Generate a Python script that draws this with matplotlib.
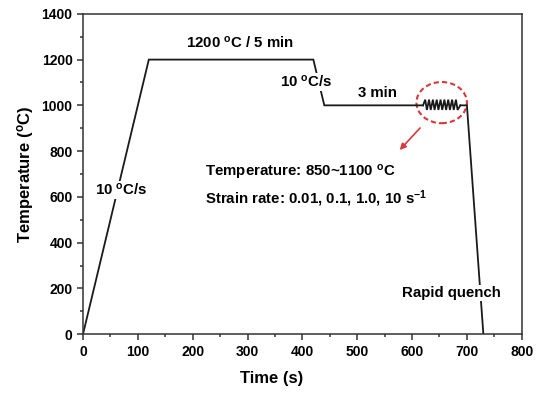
import matplotlib
matplotlib.use('Agg')
import matplotlib.pyplot as plt
from matplotlib.patches import Ellipse
from matplotlib.ticker import MultipleLocator

plt.rcParams['font.family'] = ['Liberation Sans', 'DejaVu Sans']
plt.rcParams['font.weight'] = 'bold'
plt.rcParams['mathtext.fontset'] = 'custom'
plt.rcParams['mathtext.rm'] = 'Liberation Sans:bold'
plt.rcParams['mathtext.bf'] = 'Liberation Sans:bold'
plt.rcParams['mathtext.it'] = 'Liberation Sans:bold'

# heat treatment path (s, degC)
path_time = [0, 120, 420, 440, 620]
path_temp = [0, 1200, 1200, 1000, 1000]

# deformation zigzag
zig_time = [620, 624, 627, 631, 634, 638, 641, 645, 648, 652, 655, 659, 662,
            666, 669, 673, 676, 680, 683, 688]
zig_temp = [1000, 1025, 980, 1025, 980, 1025, 980, 1025, 980, 1025, 980,
            1025, 980, 1025, 980, 1025, 980, 1025, 980, 1000]

quench_time = [688, 700, 730]
quench_temp = [1000, 1000, 0]

fig, ax = plt.subplots(figsize=(5.39, 3.95), dpi=100)
plt.subplots_adjust(left=0.154, right=0.968, bottom=0.154, top=0.965)

line_kw = dict(color='#1a1a1a', lw=1.3, solid_joinstyle='miter')
ax.plot(path_time, path_temp, **line_kw)
ax.plot(zig_time, zig_temp, **line_kw)
ax.plot(quench_time, quench_temp, **line_kw)

ax.add_patch(Ellipse((654, 1012), 92, 180, fill=False, ec='#d9383a',
                     ls=(0, (2.5, 1.5)), lw=1.5))
ax.annotate('', xy=(574, 796), xytext=(618, 910),
            arrowprops=dict(arrowstyle='-|>', color='#d9383a', lw=1.2,
                            mutation_scale=9))

box = dict(facecolor='white', edgecolor='none', pad=1)
fs = 10.8
deg = '$^{\\mathrm{o}}$'
ax.text(286, 1273, '1200 ' + deg + 'C / 5 min', ha='center', va='center',
        fontsize=fs, fontweight='bold')
ax.text(408, 1102, '10 ' + deg + 'C/s', ha='center', va='center',
        fontsize=fs, fontweight='bold', bbox=box)
ax.text(537, 1052, '3 min', ha='center', va='center', fontsize=fs,
        fontweight='bold')
ax.text(69, 630, '10 ' + deg + 'C/s', ha='center', va='center',
        fontsize=fs, fontweight='bold', bbox=box)
ax.text(222, 705, 'Temperature: 850~1100 ' + deg + 'C', ha='left',
        va='center', fontsize=fs, fontweight='bold')
ax.text(222, 593, 'Strain rate: 0.01, 0.1, 1.0, 10 s$^{\\mathrm{-1}}$',
        ha='left', va='center', fontsize=fs, fontweight='bold')
ax.text(672, 180, 'Rapid quench', ha='center', va='center', fontsize=fs,
        fontweight='bold', bbox=box)

ax.set_xlim(0, 800)
ax.set_ylim(0, 1400)
ax.xaxis.set_major_locator(MultipleLocator(100))
ax.xaxis.set_minor_locator(MultipleLocator(50))
ax.yaxis.set_major_locator(MultipleLocator(200))
ax.yaxis.set_minor_locator(MultipleLocator(100))
ax.tick_params(which='both', direction='out', width=1.1, color='#333333',
               labelsize=10)
ax.tick_params(which='major', length=4)
ax.tick_params(which='minor', length=2.5)
for lab in ax.get_xticklabels() + ax.get_yticklabels():
    lab.set_fontweight('bold')
for sp in ax.spines.values():
    sp.set_linewidth(1.1)
    sp.set_color('#333333')

ax.set_xlabel('Time (s)', fontsize=12, fontweight='bold')
ax.set_ylabel('Temperature (' + deg + 'C)', fontsize=12, fontweight='bold')
ax.xaxis.set_label_coords(0.43, -0.115)

plt.savefig('out.png', dpi=100)
